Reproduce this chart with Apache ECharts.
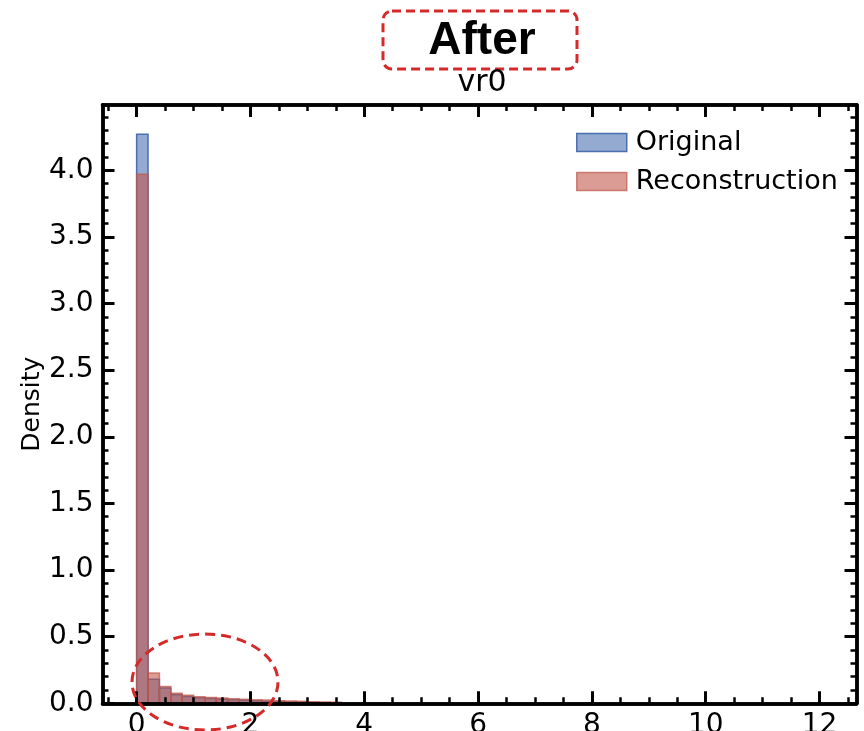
<!DOCTYPE html>
<html><head><meta charset="utf-8">
<script src="https://cdn.jsdelivr.net/npm/echarts@6/dist/echarts.min.js"></script>
<style>html,body{margin:0;padding:0;background:#fff}#c{width:864px;height:731px}</style>
</head><body><div id="c"></div>
<script>
// ---- data ----
const binEdges = [0, 0.2, 0.4, 0.6, 0.8, 1.0, 1.2, 1.4, 1.6, 1.8, 2.0, 2.2, 2.4, 2.6, 2.8, 3.0, 3.2, 3.4, 3.6];
const originalDensity = [4.27, 0.18, 0.114, 0.064, 0.051, 0.042, 0.036, 0.031, 0.027, 0.023, 0.019, 0.016, 0.013, 0.010, 0.008, 0.006, 0.004, 0.003];
const reconDensity    = [3.97, 0.227, 0.126, 0.076, 0.060, 0.050, 0.044, 0.040, 0.035, 0.030, 0.027, 0.024, 0.020, 0.018, 0.015, 0.012, 0.010, 0.008];
const seriesNames = ['Original', 'Reconstruction'];
const xMajorTicks = [0, 2, 4, 6, 8, 10, 12];
const xMinorTicks = [-0.5, 0.5, 1, 1.5, 2.5, 3, 3.5, 4.5, 5, 5.5, 6.5, 7, 7.5, 8.5, 9, 9.5, 10.5, 11, 11.5, 12.5];
const yMajorTicks = [0, 0.5, 1.0, 1.5, 2.0, 2.5, 3.0, 3.5, 4.0];
const yMinorTicks = [0.1,0.2,0.3,0.4,0.6,0.7,0.8,0.9,1.1,1.2,1.3,1.4,1.6,1.7,1.8,1.9,2.1,2.2,2.3,2.4,2.6,2.7,2.8,2.9,3.1,3.2,3.3,3.4,3.6,3.7,3.8,3.9,4.1,4.2,4.3,4.4];
const xRange = [-0.6, 12.65];
const yRange = [0, 4.49];
const chartTitle = 'After';
const subTitle = 'vr0';
const yName = 'Density';

// ---- styles ----
const BLUE_FILL = 'rgba(76,114,176,0.6)';
const BLUE_EDGE = 'rgba(60,100,170,0.9)';
const RED_FILL = 'rgba(192,85,72,0.58)';
const RED_EDGE = 'rgba(192,85,72,0.7)';
const FONT = '"DejaVu Sans", sans-serif';

function toRows(vals) {
  return vals.map((v, i) => [binEdges[i], binEdges[i + 1], v]);
}

function makeX(pos, ticks, len, w, labels) {
  return {
    type: 'value', position: pos, min: xRange[0], max: xRange[1], z: 5,
    axisLine: { show: true, onZero: false, lineStyle: { color: '#000', width: 3.5 } },
    axisTick: { show: true, inside: true, length: len, customValues: ticks, lineStyle: { color: '#000', width: w } },
    axisLabel: labels ? { show: true, customValues: ticks, fontSize: 28, color: '#000', margin: 8, fontFamily: FONT } : { show: false },
    splitLine: { show: false }
  };
}
function makeY(pos, ticks, len, w, labels) {
  return {
    type: 'value', position: pos, min: yRange[0], max: yRange[1], z: 5,
    axisLine: { show: true, onZero: false, lineStyle: { color: '#000', width: 3.5 } },
    axisTick: { show: true, inside: true, length: len, customValues: ticks, lineStyle: { color: '#000', width: w } },
    axisLabel: labels ? { show: true, customValues: ticks, fontSize: 28, color: '#000', margin: 9, fontFamily: FONT,
      formatter: v => Number(v).toFixed(1) } : { show: false },
    splitLine: { show: false }
  };
}

function histSeries(name, vals, fill, edge) {
  return {
    type: 'custom', name: name, xAxisIndex: 0, yAxisIndex: 0, z: 2,
    itemStyle: { color: fill, borderColor: edge, borderWidth: 1.5 },
    encode: { x: [0, 1], y: 2 },
    data: toRows(vals),
    renderItem: function (params, api) {
      const x0 = api.value(0), x1 = api.value(1), h = api.value(2);
      const p0 = api.coord([x0, h]);
      const p1 = api.coord([x1, 0]);
      return {
        type: 'rect',
        shape: { x: p0[0], y: p0[1], width: p1[0] - p0[0], height: p1[1] - p0[1] },
        style: { fill: fill, stroke: edge, lineWidth: 1.5 }
      };
    }
  };
}

const xAxes = [
  makeX('bottom', xMajorTicks, 12, 3, true),
  makeX('bottom', xMinorTicks, 6, 2.5, false),
  makeX('top', xMajorTicks, 12, 3, false),
  makeX('top', xMinorTicks, 6, 2.5, false)
];
const yAxes = [
  makeY('left', yMajorTicks, 12, 3, true),
  makeY('left', yMinorTicks, 6, 2.5, false),
  makeY('right', yMajorTicks, 12, 3, false),
  makeY('right', yMinorTicks, 6, 2.5, false)
];
yAxes[0].name = yName;
yAxes[0].nameLocation = 'middle';
yAxes[0].nameRotate = 90;
yAxes[0].nameGap = 58;
yAxes[0].nameMoveOverlap = false;
yAxes[0].nameTextStyle = { fontSize: 25, color: '#000', fontFamily: FONT };

const chart = echarts.init(document.getElementById('c'), null, { renderer: 'canvas' });
chart.setOption({
  animation: false,
  backgroundColor: '#fff',
  grid: { left: 102.5, right: 7.5, top: 105, bottom: 27.7, containLabel: false, outerBoundsMode: 'none' },
  xAxis: xAxes,
  yAxis: yAxes,
  legend: {
    orient: 'vertical', left: 571, top: 124, itemWidth: 50, itemHeight: 18, itemGap: 12,
    icon: 'rect', selectedMode: false,
    textStyle: { fontSize: 27, color: '#000', fontFamily: FONT, padding: [0, 0, 0, 4] },
    data: [
      { name: seriesNames[0], itemStyle: { color: BLUE_FILL, borderColor: BLUE_EDGE, borderWidth: 1.5 } },
      { name: seriesNames[1], itemStyle: { color: RED_FILL, borderColor: RED_EDGE, borderWidth: 1.5 } }
    ]
  },
  graphic: [
    { type: 'rect', z: 100, shape: { x: 383, y: 11, width: 194, height: 58, r: 9 },
      style: { fill: 'none', stroke: '#d42a2a', lineWidth: 3, lineDash: [9, 5] } },
    { type: 'text', z: 100, x: 482, y: 41,
      style: { text: chartTitle, fill: '#000', font: 'bold 46px "Liberation Sans", Arial, sans-serif', align: 'center', verticalAlign: 'middle' } },
    { type: 'text', z: 100, x: 482, y: 83,
      style: { text: subTitle, fill: '#000', font: '30px "DejaVu Sans", sans-serif', align: 'center', verticalAlign: 'middle' } },
    { type: 'ellipse', z: 100, shape: { cx: 205, cy: 682, rx: 73, ry: 48 },
      style: { fill: 'none', stroke: '#d42a2a', lineWidth: 3, lineDash: [10, 6] } }
  ],
  series: [
    histSeries(seriesNames[0], originalDensity, BLUE_FILL, BLUE_EDGE),
    histSeries(seriesNames[1], reconDensity, RED_FILL, RED_EDGE)
  ]
});
</script>
</body></html>
